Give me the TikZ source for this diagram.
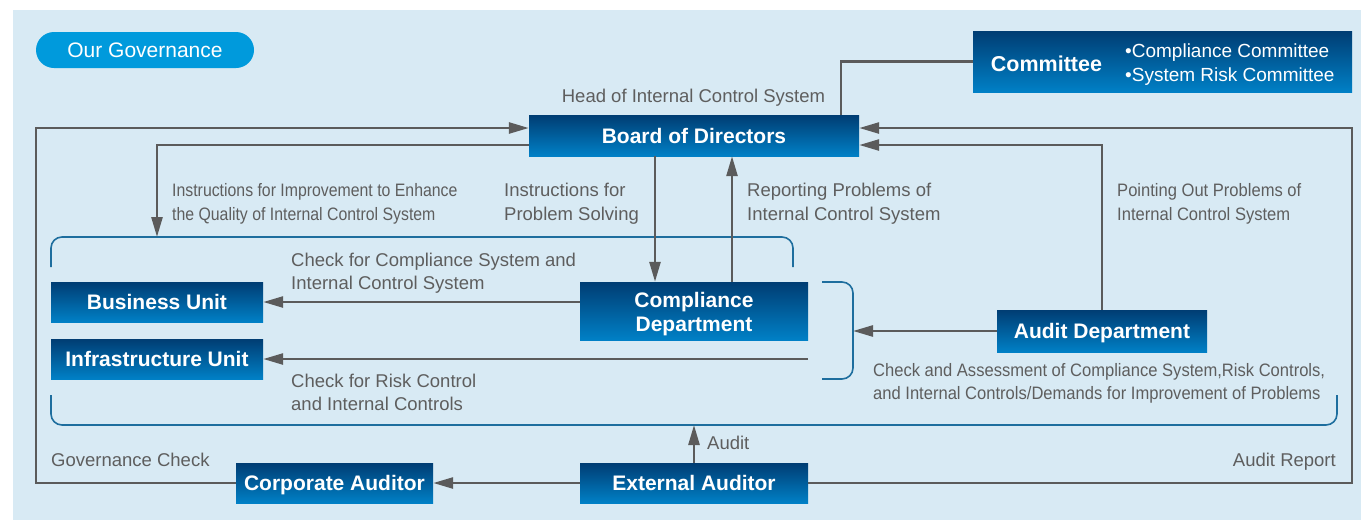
\documentclass[tikz,border=0pt]{standalone}
\usepackage{fontspec}
\setmainfont{Liberation Sans}
\newfontfamily\condfont{Liberation Sans}[FakeStretch=0.88]
\newfontfamily\condfontb{Liberation Sans}[FakeStretch=0.92]
\usetikzlibrary{arrows.meta}
\definecolor{bgblue}{HTML}{D8EAF4}
\definecolor{pillblue}{HTML}{009ADC}
\definecolor{boxtop}{HTML}{003D73}
\definecolor{boxbot}{HTML}{0080C6}
\definecolor{lin}{HTML}{5B5B5B}
\definecolor{txt}{HTML}{5E5E5E}
\definecolor{brk}{HTML}{1E6E9E}
\tikzset{
  box/.style={top color=boxtop, bottom color=boxbot, draw=none, text=white,
    font=\fontsize{21}{24}\selectfont\bfseries, inner sep=0pt, align=center},
  onebox/.style={box, text height=16.5pt, text depth=1.5pt},
  lbl/.style={text=txt, font=\fontsize{18.5}{23.5}\selectfont, inner sep=0pt, align=left},
  cond/.style={text=txt, font=\condfont\fontsize{18}{23.5}\selectfont, inner sep=0pt, align=left},
  condb/.style={text=txt, font=\condfontb\fontsize{18}{23.5}\selectfont, inner sep=0pt, align=left},
  conn/.style={draw=lin, line width=2.6pt},
  arr/.style={conn, -{Triangle[length=20pt,width=11pt]}},
  brace/.style={draw=brk, line width=1.6pt, rounded corners=11pt}
}
\begin{document}
\begin{tikzpicture}[x=1pt,y=-1pt]
\useasboundingbox (0,0) rectangle (1361,520);
\fill[bgblue] (13,10) rectangle (1361,520);

% title pill
\node[fill=pillblue, rounded corners=18pt, minimum width=218, minimum height=36, inner sep=0pt,
  text=white, font=\fontsize{21}{24}\selectfont] (title) at (145,50) {Our Governance};

% boxes
\node[box, minimum width=379, minimum height=61] (comm) at (1162.5,61.5) {};
\node[text=white, font=\fontsize{21.5}{24}\selectfont\bfseries, inner sep=0pt] (commt) at (1046.5,64) {Committee};
\node[text=white, font=\fontsize{19}{24}\selectfont, inner sep=0pt, align=left, anchor=base west] (commb) at (1125,81.5) {•Compliance Committee\\•System Risk Committee};

\node[onebox, minimum width=330, minimum height=41] (bod) at (694,135.5) {Board of Directors};
\node[onebox, minimum width=212, minimum height=40] (bu) at (157,302) {Business Unit};
\node[onebox, minimum width=212, minimum height=40] (iu) at (157,359) {Infrastructure Unit};
\node[box, minimum width=228, minimum height=58, text height=41.5pt, text depth=1pt] (cd) at (694,311) {Compliance\\Department};
\node[onebox, minimum width=210, minimum height=42] (ad) at (1102,331) {Audit Department};
\node[onebox, minimum width=228, minimum height=40] (ea) at (694,483) {External Auditor};
\node[onebox, minimum width=197, minimum height=40] (ca) at (334.5,483) {Corporate Auditor};

% coordinates
\coordinate (lt) at (36,128);
\coordinate (rt) at (1352,128);
\coordinate (lb) at (36,483);
\coordinate (rb) at (1352,483);
\coordinate (ib) at (157,145);
\coordinate (itip) at (157,237);
\coordinate (pb) at (1102,145);
\coordinate (cm) at (841,62);
\coordinate (rbr) at (853,331);
\coordinate (bbr) at (694,425);

% brackets
\draw[brace] (51,267) |- (793,237) -- (793,267);
\draw[brace] (51,395) |- (1337,425) -- (1337,395);
\draw[brace] (822,282) -| (853,330) |- (822,379);

% connectors
\draw[arr] (ca.west) -- (lb) -- (lt) -- (bod.west |- lt);
\draw[arr] (ea.east) -- (rb) -- (rt) -- (bod.east |- rt);
\draw[conn] (bod.north -| cm) |- (comm.west);
\draw[arr] (bod.west |- ib) -| (itip);
\draw[arr] (bod.south -| 655,0) -- (cd.north -| 655,0);
\draw[arr] (cd.north -| 732,0) -- (bod.south -| 732,0);
\draw[arr] (ad.north) -- (pb) -- (bod.east |- pb);
\draw[arr] (cd.west |- bu.east) -- (bu.east);
\draw[arr] (cd.east |- iu.east) -- (iu.east);
\draw[arr] (ad.west) -- (rbr);
\draw[arr] (ea.west) -- (ca.east);
\draw[arr] (ea.north) -- (bbr);

% labels
\node[lbl, anchor=center] (hics) at (693.5,98) {Head of Internal Control System};
\node[cond, anchor=base west] (l1) at (172,220) {Instructions for Improvement to Enhance\\the Quality of Internal Control System};
\node[lbl, anchor=base west] (l2) at (504,220) {Instructions for\\Problem Solving};
\node[lbl, anchor=base west] (l3) at (747,220) {Reporting Problems of\\Internal Control System};
\node[condb, anchor=base west] (l4) at (1117,220) {Pointing Out Problems of\\Internal Control System};
\node[lbl, anchor=base west] (l5) at (291,289.5) {Check for Compliance System and\\Internal Control System};
\node[lbl, anchor=base west] (l6) at (291,410.5) {Check for Risk Control\\and Internal Controls};
\node[condb, anchor=base west] (l7) at (873,399.5) {Check and Assessment of Compliance System,Risk Controls,\\and Internal Controls/Demands for Improvement of Problems};
\node[lbl, anchor=base west] (l8) at (51,466.5) {Governance Check};
\node[lbl, anchor=base east] (l9) at (1336,466.5) {Audit Report};
\node[lbl, anchor=base west] (l10) at (707,449.5) {Audit};
\end{tikzpicture}
\end{document}
